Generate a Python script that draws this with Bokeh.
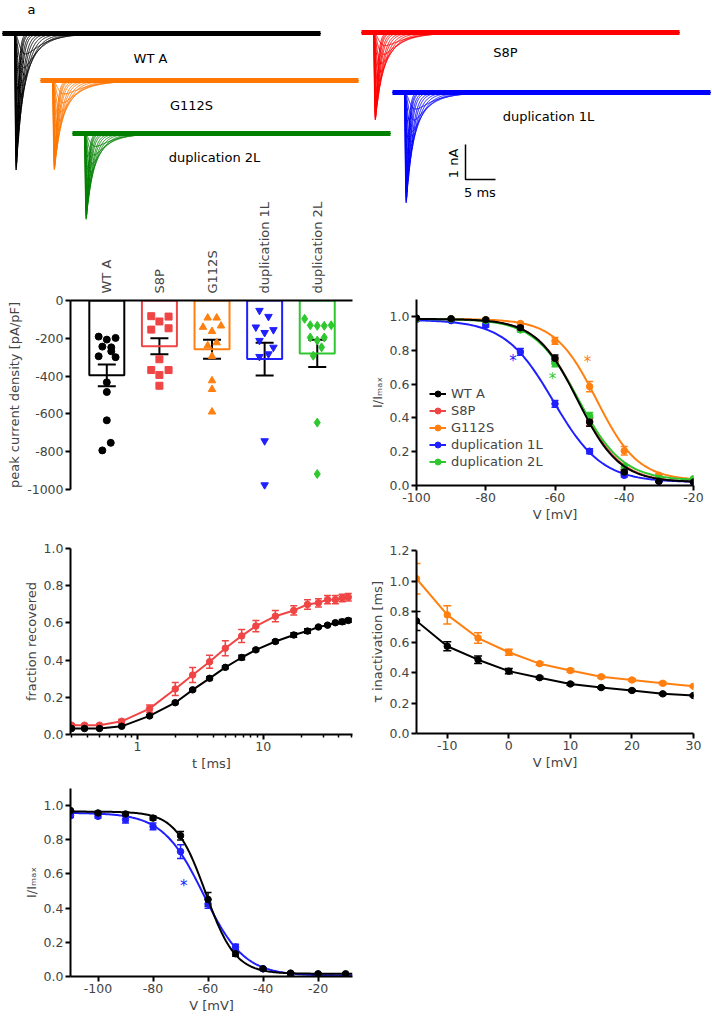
import numpy as np
from bokeh.plotting import figure
from bokeh.models import (Range1d, FixedTicker, NumeralTickFormatter, Whisker, TeeHead,
                          ColumnDataSource, Label, Legend, LegendItem)
from bokeh.layouts import column, row
from bokeh.embed import file_html
from bokeh.resources import INLINE

FONT = "DejaVu Sans"

# ================= DATA =================
# ---- panel a: current families ----
trace_names = ["WT A", "S8P", "G112S", "duplication 1L", "duplication 2L"]
trace_peak_nA = [3.9, 2.5, 2.55, 3.15, 2.45]
trace_tau_scale = [1.0, 1.2, 1.25, 1.05, 1.0]
sweep_fraction = [1.0, 0.98, 0.95, 0.9, 0.85, 0.8, 0.72, 0.64, 0.55, 0.45, 0.35, 0.25, 0.15]
sweep_tau_ms = [0.3, 0.35, 0.4, 0.5, 0.6, 0.75, 0.9, 1.1, 1.35, 1.7, 2.1, 2.6, 3.2]
sweep_tpeak_ms = [0.4, 0.45, 0.5, 0.55, 0.6, 0.7, 0.8, 0.95, 1.1, 1.3, 1.5, 1.8, 2.1]
trace_length_ms = 53.0
trace_onset_ms = 2.0

# ---- panel b: peak current density [pA/pF] ----
b_groups = ["WT A", "S8P", "G112S", "duplication 1L", "duplication 2L"]
b_mean = [-396, -242, -258, -310, -280]
b_sem = [58, 42, 50, 87, 72]
b_wt = [-191, -207, -198, -244, -248, -269, -295, -300, -433, -484, -634, -753, -793]
b_wt_dx = [-0.155, 0.0, 0.167, -0.085, 0.085, 0.085, -0.155, 0.167, 0.0, 0.0, 0.0, 0.075, -0.085]
b_s8p = [-83, -85, -111, -154, -147, -311, -368, -368, -394, -451]
b_s8p_dx = [-0.155, 0.174, 0.0, -0.155, 0.174, 0.0, -0.155, 0.174, 0.0, 0.0]
b_g112s = [-92, -92, -141, -134, -163, -239, -223, -295, -424, -470, -589]
b_g112s_dx = [-0.082, 0.089, -0.171, 0.171, 0.0, -0.082, 0.089, 0.0, 0.0, 0.0, 0.0]
b_dup1 = [-53, -85, -141, -155, -170, -212, -248, -297, -283, -743, -976]
b_dup1_dx = [-0.098, 0.073, -0.167, 0.167, 0.0, -0.098, 0.167, -0.098, 0.073, 0.0, 0.0]
b_dup2 = [-97, -131, -134, -134, -131, -196, -196, -212, -248, -292, -646, -918]
b_dup2_dx = [-0.24, -0.133, 0.0, 0.133, 0.265, -0.133, 0.133, 0.0, 0.082, -0.076, 0.0, 0.0]

# ---- panel c: steady-state inactivation ----
c_v = [-100, -90, -80, -70, -60, -50, -40, -30, -20]
c_wt = [0.99, 0.986, 0.98, 0.933, 0.752, 0.375, 0.08, 0.025, 0.02]
c_wt_err = [0.005, 0.005, 0.008, 0.012, 0.02, 0.025, 0.012, 0.005, 0.005]
c_s8p = [0.99, 0.985, 0.975, 0.925, 0.74, 0.38, 0.085, 0.03, 0.02]
c_s8p_err = [0.005, 0.005, 0.008, 0.012, 0.02, 0.025, 0.012, 0.005, 0.005]
c_g112s = [0.985, 0.985, 0.98, 0.958, 0.855, 0.585, 0.205, 0.06, 0.035]
c_g112s_err = [0.005, 0.005, 0.005, 0.008, 0.02, 0.03, 0.025, 0.01, 0.005]
c_dup1 = [0.982, 0.975, 0.947, 0.79, 0.483, 0.203, 0.06, 0.025, 0.02]
c_dup1_err = [0.005, 0.005, 0.01, 0.02, 0.02, 0.015, 0.01, 0.005, 0.005]
c_dup2 = [0.985, 0.985, 0.975, 0.92, 0.722, 0.412, 0.11, 0.04, 0.04]
c_dup2_err = [0.005, 0.005, 0.008, 0.012, 0.02, 0.02, 0.015, 0.005, 0.005]
# Boltzmann fit parameters: top, bottom, V1/2, slope
c_fit = {"WT A": (0.985, 0.02, -53.4, 6.0), "S8P": (0.985, 0.02, -53.2, 6.1),
         "G112S": (0.985, 0.03, -48.0, 6.0), "duplication 1L": (0.98, 0.02, -60.5, 7.0),
         "duplication 2L": (0.985, 0.03, -53.2, 6.4)}

# ---- panel d: recovery from inactivation ----
d_t = [0.3, 0.38, 0.5, 0.75, 1.25, 2.0, 2.75, 3.75, 5.0, 6.75, 8.75, 12.5, 17.5, 22.5, 27.5,
       32.5, 37.5, 42.5, 47.5]
d_wt = [0.032, 0.032, 0.032, 0.044, 0.10, 0.171, 0.24, 0.302, 0.361, 0.414, 0.455, 0.50, 0.535,
        0.556, 0.578, 0.588, 0.601, 0.606, 0.613]
d_wt_err = [0.004, 0.004, 0.004, 0.004, 0.006, 0.006, 0.006, 0.008, 0.008, 0.012, 0.008, 0.008,
            0.012, 0.012, 0.006, 0.006, 0.006, 0.012, 0.01]
d_s8p = [0.05, 0.05, 0.05, 0.071, 0.139, 0.245, 0.32, 0.391, 0.464, 0.53, 0.583, 0.636, 0.667,
         0.699, 0.708, 0.725, 0.725, 0.734, 0.738]
d_s8p_err = [0.005, 0.005, 0.005, 0.01, 0.02, 0.035, 0.04, 0.035, 0.04, 0.035, 0.03, 0.03, 0.025,
             0.025, 0.022, 0.022, 0.022, 0.02, 0.02]

# ---- panel e: tau inactivation ----
e_v = [-15, -10, -5, 0, 5, 10, 15, 20, 25, 30]
e_wt = [0.738, 0.572, 0.484, 0.409, 0.366, 0.325, 0.301, 0.282, 0.26, 0.249]
e_wt_err = [0.062, 0.03, 0.025, 0.018, 0.008, 0.008, 0.006, 0.006, 0.006, 0.006]
e_g112s = [1.015, 0.778, 0.626, 0.533, 0.458, 0.413, 0.372, 0.351, 0.329, 0.31]
e_g112s_err = [0.1, 0.06, 0.035, 0.02, 0.01, 0.01, 0.008, 0.008, 0.008, 0.006]

# ---- panel f: steady-state inactivation ----
f_v = [-110, -100, -90, -80, -70, -60, -50, -40, -30, -20, -10]
f_wt = [0.971, 0.957, 0.951, 0.927, 0.824, 0.451, 0.133, 0.045, 0.02, 0.016, 0.016]
f_wt_err = [0.005, 0.008, 0.01, 0.012, 0.025, 0.04, 0.015, 0.005, 0.005, 0.005, 0.005]
f_dup1 = [0.941, 0.937, 0.918, 0.878, 0.731, 0.424, 0.173, 0.045, 0.005, 0.006, 0.005]
f_dup1_err = [0.01, 0.01, 0.02, 0.02, 0.04, 0.025, 0.015, 0.005, 0.003, 0.003, 0.003]
f_fit = {"WT A": (0.965, 0.016, -60.9, 5.4), "duplication 1L": (0.958, 0.005, -61.7, 7.4)}

# ================= STYLE =================
COL = {"WT A": "#000000", "S8P": "#f04545", "G112S": "#ff8010",
       "duplication 1L": "#2020ff", "duplication 2L": "#2ec82e"}
COL_A = {"WT A": "#000000", "S8P": "#ff0000", "G112S": "#ff7700",
         "duplication 1L": "#0000ff", "duplication 2L": "#008000"}
MARK = {"WT A": "circle", "S8P": "square", "G112S": "triangle",
        "duplication 1L": "inverted_triangle", "duplication 2L": "diamond"}


def style(p):
    p.grid.visible = False
    p.outline_line_color = None
    p.background_fill_alpha = 0
    p.border_fill_alpha = 0
    for ax in p.axis:
        ax.axis_line_width = 2
        ax.major_tick_line_width = 2
        ax.major_tick_out = 5
        ax.major_tick_in = 0
        ax.minor_tick_line_color = None
        ax.major_label_text_font = FONT
        ax.major_label_text_font_size = "12.5px"
        ax.major_label_standoff = 2
        ax.axis_label_text_font = FONT
        ax.axis_label_text_font_size = "13px"
        ax.axis_label_text_font_style = "normal"
        ax.axis_label_standoff = 2


def label(p, x, y, s, color="black", size="13px", angle=0.0):
    p.add_layout(Label(x=x, y=y, text=s, text_color=color, text_font=FONT,
                       text_font_size=size, angle=angle, text_align="center",
                       text_baseline="middle"))


def whisk(p, x, y, err, color, head, width=1.5):
    src = ColumnDataSource(dict(x=x, up=[a + b for a, b in zip(y, err)],
                                lo=[a - b for a, b in zip(y, err)]))
    p.add_layout(Whisker(base="x", upper="up", lower="lo", source=src, line_color=color,
                         line_width=width,
                         upper_head=TeeHead(size=head, line_color=color, line_width=width),
                         lower_head=TeeHead(size=head, line_color=color, line_width=width)))


def boltz(params, v):
    top, bot, vh, k = params
    v = np.asarray(v, dtype=float)
    return bot + (top - bot) / (1.0 + np.exp((v - vh) / k))


# ================= PANEL A =================
A_X0 = {"WT A": 0.33, "S8P": 60.17, "G112S": 6.67, "duplication 1L": 65.33, "duplication 2L": 12.0}
A_Y0 = {"WT A": -33 / 35, "S8P": -32 / 35, "G112S": -80 / 35, "duplication 1L": -92 / 35,
        "duplication 2L": -133 / 35}

pa = figure(width=712, height=228, x_range=Range1d(0, 712 / 6), y_range=Range1d(-228 / 35, 0),
            output_backend="svg", toolbar_location=None, x_axis_location=None,
            y_axis_location=None, min_border=0)
pa.grid.visible = False
pa.outline_line_color = None

tt = np.concatenate([np.linspace(0, trace_onset_ms + 16, 800), [trace_length_ms]])
for i, name in enumerate(trace_names):
    xs, ys = [], []
    for f, tau, tp in zip(sweep_fraction, sweep_tau_ms, sweep_tpeak_ms):
        th = tau * trace_tau_scale[i]
        tm = tp / 3.0
        s = np.clip(tt - trace_onset_ms, 0, None)
        g = (1 - np.exp(-s / tm)) ** 3 * np.exp(-s / th)
        g = g / g.max()
        xs.append(A_X0[name] + tt)
        ys.append(A_Y0[name] - trace_peak_nA[i] * f * g)
    pa.multi_line(xs, ys, line_color=COL_A[name], line_width=1)
    pa.line([A_X0[name], A_X0[name] + trace_length_ms], [A_Y0[name], A_Y0[name]],
            line_color=COL_A[name], line_width=5)

label(pa, 150 / 6, -58 / 35, "WT A")
label(pa, 191 / 6, -105 / 35, "G112S")
label(pa, 214 / 6, -157 / 35, "duplication 2L")
label(pa, 505 / 6, -52 / 35, "S8P")
label(pa, 548 / 6, -116 / 35, "duplication 1L")
label(pa, 31 / 6, -9 / 35, "a")
# scale bar: 1 nA / 5 ms
sb_x, sb_y = 465 / 6, -179 / 35
pa.line([sb_x, sb_x, sb_x + 5], [sb_y + 1, sb_y, sb_y], line_color="black", line_width=1.5)
label(pa, sb_x - 2.0, sb_y + 0.46, "1 nA", angle=np.pi / 2)
label(pa, sb_x + 2.4, sb_y - 0.36, "5 ms")

# ================= PANEL B =================
pb = figure(width=366, height=315, x_range=Range1d(-0.69, 4.67), y_range=Range1d(-1000, 0),
            x_axis_location="above", output_backend="svg", toolbar_location=None,
            min_border_left=69, min_border_right=14, min_border_top=110, min_border_bottom=16)
style(pb)
pb.xaxis.ticker = FixedTicker(ticks=[0, 1, 2, 3, 4])
pb.xaxis.major_label_overrides = {i: g for i, g in enumerate(b_groups)}
pb.xaxis.major_label_orientation = np.pi / 2
pb.xaxis.major_tick_out = 0
pb.xaxis.major_label_standoff = 7
pb.xaxis.major_label_text_font_size = "13px"
pb.yaxis.ticker = FixedTicker(ticks=[0, -200, -400, -600, -800, -1000])
pb.yaxis.formatter = NumeralTickFormatter(format="0")
pb.yaxis.axis_label = "peak current density [pA/pF]"

pb.vbar(x=list(range(5)), top=[0] * 5, bottom=b_mean, width=0.665, fill_color=None,
        line_color=[COL[g] for g in b_groups], line_width=2)
for i, (vals, dx) in enumerate([(b_wt, b_wt_dx), (b_s8p, b_s8p_dx), (b_g112s, b_g112s_dx),
                                (b_dup1, b_dup1_dx), (b_dup2, b_dup2_dx)]):
    g = b_groups[i]
    size = {"circle": 7, "square": 7, "triangle": 7.5, "inverted_triangle": 7.5, "diamond": 9}[MARK[g]]
    pb.scatter([i + d for d in dx], vals, marker=MARK[g], size=size, fill_color=COL[g],
               line_color=COL[g])
whisk(pb, list(range(5)), b_mean, b_sem, "black", 18, width=2)
label(pb, -1.41, 185, "b")

# ================= PANEL C =================
pc = figure(width=346, height=334, x_range=Range1d(-100, -20), y_range=Range1d(0, 1.1),
            output_backend="svg", toolbar_location=None,
            min_border_left=46, min_border_right=19, min_border_top=109, min_border_bottom=36)
style(pc)
pc.xaxis.ticker = FixedTicker(ticks=[-100, -80, -60, -40, -20])
pc.xaxis.formatter = NumeralTickFormatter(format="0")
pc.yaxis.ticker = FixedTicker(ticks=[0, 0.2, 0.4, 0.6, 0.8, 1.0])
pc.yaxis.formatter = NumeralTickFormatter(format="0.0")
pc.xaxis.axis_label = "V [mV]"
pc.yaxis.axis_label = "I/I\u2098\u2090\u2093"

vfit_c = np.linspace(-100, -20, 161)
c_series = {"S8P": (c_s8p, c_s8p_err), "G112S": (c_g112s, c_g112s_err),
            "duplication 1L": (c_dup1, c_dup1_err), "duplication 2L": (c_dup2, c_dup2_err),
            "WT A": (c_wt, c_wt_err)}
c_items = {}
for g, (vals, err) in c_series.items():
    lr = pc.line(vfit_c, boltz(c_fit[g], vfit_c), line_color=COL[g], line_width=2)
    whisk(pc, c_v, vals, err, COL[g], 7)
    sr = pc.scatter(c_v, vals, marker="circle", size=6.5, fill_color=COL[g], line_color=COL[g])
    c_items[g] = LegendItem(label=g, renderers=[lr, sr])
leg = Legend(items=[c_items[g] for g in b_groups], location=(13, 16), padding=0, margin=0,
             spacing=2, glyph_width=17, glyph_height=15, label_height=15, label_standoff=5,
             label_text_font=FONT, label_text_font_size="13px", background_fill_alpha=0,
             border_line_color=None)
pc.add_layout(leg)
label(pc, -72.1, 0.735, "*", color=COL["duplication 1L"], size="15px")
label(pc, -60.7, 0.63, "*", color=COL["duplication 2L"], size="15px")
label(pc, -50.6, 0.728, "*", color=COL["G112S"], size="15px")
label(pc, -104.8, 1.29, "c")

# ================= PANEL D =================
pd_ = figure(width=366, height=268, x_axis_type="log", x_range=Range1d(0.294, 51.3),
             y_range=Range1d(0, 1.0), output_backend="svg", toolbar_location=None,
             min_border_left=69, min_border_right=13, min_border_top=43, min_border_bottom=37)
style(pd_)
pd_.xaxis.ticker = FixedTicker(ticks=[1, 10],
                               minor_ticks=[0.3, 0.4, 0.5, 0.6, 0.7, 0.8, 0.9, 2, 3, 4, 5, 6, 7, 8,
                                            9, 20, 30, 40, 50])
pd_.xaxis.formatter = NumeralTickFormatter(format="0")
pd_.xaxis.minor_tick_line_color = "black"
pd_.xaxis.minor_tick_line_width = 1.5
pd_.xaxis.minor_tick_out = 3
pd_.xaxis.minor_tick_in = 0
pd_.yaxis.ticker = FixedTicker(ticks=[0, 0.2, 0.4, 0.6, 0.8, 1.0])
pd_.yaxis.formatter = NumeralTickFormatter(format="0.0")
pd_.xaxis.axis_label = "t [ms]"
pd_.yaxis.axis_label = "fraction recovered"
for g, vals, err in [("S8P", d_s8p, d_s8p_err), ("WT A", d_wt, d_wt_err)]:
    pd_.line(d_t, vals, line_color=COL[g], line_width=2)
    whisk(pd_, d_t, vals, err, COL[g], 7)
    pd_.scatter(d_t, vals, marker="circle", size=6.5, fill_color=COL[g], line_color=COL[g])
label(pd_, 60.0, 0.765, "*", color=COL["S8P"], size="15px")
label(pd_, 0.147, 1.09, "d")

# ================= PANEL E =================
pe = figure(width=346, height=248, x_range=Range1d(-15, 30), y_range=Range1d(0, 1.2),
            output_backend="svg", toolbar_location=None,
            min_border_left=46, min_border_right=19, min_border_top=26, min_border_bottom=36)
style(pe)
pe.xaxis.ticker = FixedTicker(ticks=[-10, 0, 10, 20, 30])
pe.xaxis.formatter = NumeralTickFormatter(format="0")
pe.yaxis.ticker = FixedTicker(ticks=[0, 0.2, 0.4, 0.6, 0.8, 1.0, 1.2])
pe.yaxis.formatter = NumeralTickFormatter(format="0.0")
pe.xaxis.axis_label = "V [mV]"
pe.yaxis.axis_label = "\u03c4 inactivation [ms]"
for g, vals, err in [("G112S", e_g112s, e_g112s_err), ("WT A", e_wt, e_wt_err)]:
    pe.line(e_v, vals, line_color=COL[g], line_width=2)
    whisk(pe, e_v, vals, err, COL[g], 8)
    pe.scatter(e_v, vals, marker="circle", size=6.5, fill_color=COL[g], line_color=COL[g])
label(pe, 31.6, 0.345, "*", color=COL["G112S"], size="15px")
label(pe, -17.4, 1.32, "e")

# ================= PANEL F =================
pf = figure(width=366, height=245, x_range=Range1d(-110, -7.5), y_range=Range1d(0, 1.1),
            output_backend="svg", toolbar_location=None,
            min_border_left=70, min_border_right=12, min_border_top=15, min_border_bottom=42)
style(pf)
pf.xaxis.ticker = FixedTicker(ticks=[-100, -80, -60, -40, -20])
pf.xaxis.formatter = NumeralTickFormatter(format="0")
pf.yaxis.ticker = FixedTicker(ticks=[0, 0.2, 0.4, 0.6, 0.8, 1.0])
pf.yaxis.formatter = NumeralTickFormatter(format="0.0")
pf.xaxis.axis_label = "V [mV]"
pf.yaxis.axis_label = "I/I\u2098\u2090\u2093"
vfit_f = np.linspace(-110, -7.5, 206)
for g, vals, err in [("duplication 1L", f_dup1, f_dup1_err), ("WT A", f_wt, f_wt_err)]:
    pf.line(vfit_f, boltz(f_fit[g], vfit_f), line_color=COL[g], line_width=2)
    whisk(pf, f_v, vals, err, COL[g], 7)
    pf.scatter(f_v, vals, marker="circle", size=6.5, fill_color=COL[g], line_color=COL[g])
label(pf, -68.8, 0.53, "*", color=COL["duplication 1L"], size="15px")
label(pf, -124.4, 1.15, "f")

# ================= LAYOUT =================
left = column(pb, pd_, pf, spacing=0)
right = column(pc, pe, spacing=0)
lower = row(left, right, spacing=0, margin=(-38, 0, 0, 0))
root = column(pa, lower, spacing=0)

open("out.html", "w").write(file_html(root, INLINE))
